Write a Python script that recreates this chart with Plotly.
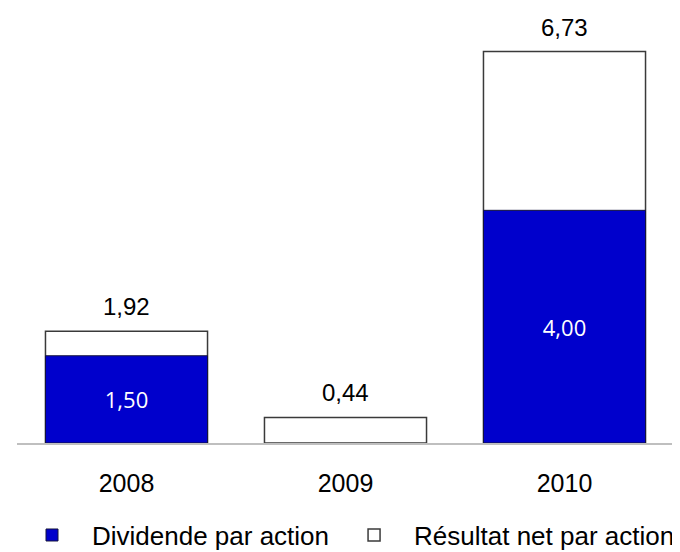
import plotly.graph_objects as go

#%% DATA

years = ['2008', '2009', '2010']
dividende = [1.50, None, 4.00]
resultat_net = [1.92, 0.44, 6.73]


def fr(v):
    # French decimal comma
    return '' if v is None else f'{v:.2f}'.replace('.', ',')


#%% PLOT

fig = go.Figure()

# Résultat net (white, behind)
fig.add_trace(go.Bar(
    x=years,
    y=resultat_net,
    name='Résultat net par action',
    marker_color='white',
    marker_line_color='#3a3a3a',
    marker_line_width=1.5,
))

# Dividende (blue, in front)
fig.add_trace(go.Bar(
    x=years,
    y=dividende,
    name='Dividende par action',
    marker_color='#0000CC',
    marker_line_color='#14143c',
    marker_line_width=1,
    text=[fr(v) for v in dividende],
    textposition='inside',
    insidetextanchor='middle',
    textfont=dict(family='Open Sans', size=22, color='white'),
))

# Value labels above the white bars (category index as x)
for i, val in enumerate(resultat_net):
    fig.add_annotation(
        x=i, y=val,
        text=fr(val),
        showarrow=False,
        yanchor='bottom',
        yshift=9,
        font=dict(family='Liberation Sans, Arial', size=24, color='black'),
    )

# page body has an 8px margin, so the figure is sized to fit the window
fig.update_layout(
    width=672,
    height=544,
    barmode='overlay',
    bargap=0.26,
    plot_bgcolor='white',
    paper_bgcolor='white',
    margin=dict(l=9, r=6, t=22, b=109, autoexpand=False),
    font=dict(family='Liberation Sans, Arial', size=25, color='black'),
    showlegend=True,
    legend=dict(
        orientation='h',
        traceorder='reversed',
        x=-0.0076, xanchor='left',
        y=-0.223, yanchor='middle',
        itemwidth=70,
        font=dict(size=26),
    ),
    xaxis=dict(
        type='category',
        showline=True,
        linecolor='#BFBFBF',
        linewidth=1.5,
        showgrid=False,
        ticks='outside',
        ticklen=17,
        tickcolor='rgba(0,0,0,0)',
    ),
    yaxis=dict(
        range=[0, 7.1],
        visible=False,
        showgrid=False,
        zeroline=False,
    ),
)

fig.write_html('out.html')
